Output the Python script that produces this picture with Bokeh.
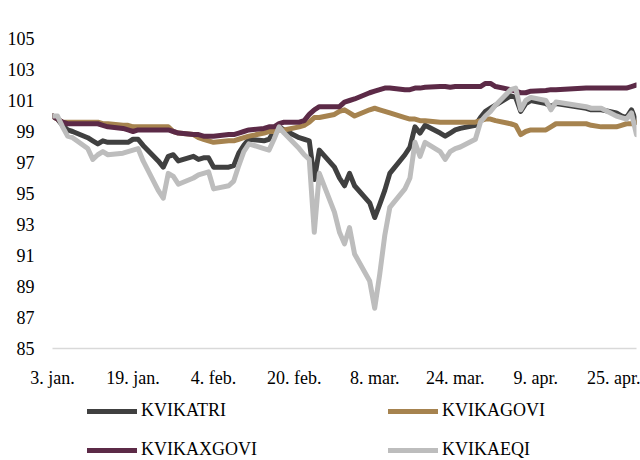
import pandas as pd
from bokeh.plotting import figure
from bokeh.layouts import column
from bokeh.models import Range1d, FixedTicker, Legend, LegendItem
from bokeh.embed import file_html
from bokeh.resources import INLINE

dates = [
    "2022-01-03", "2022-01-04", "2022-01-05", "2022-01-06", "2022-01-07",
    "2022-01-10", "2022-01-11", "2022-01-12", "2022-01-13", "2022-01-14",
    "2022-01-17", "2022-01-18", "2022-01-19", "2022-01-20", "2022-01-21",
    "2022-01-24", "2022-01-25", "2022-01-26", "2022-01-27", "2022-01-28",
    "2022-01-31",
    "2022-02-01", "2022-02-02", "2022-02-03", "2022-02-04",
    "2022-02-07", "2022-02-08", "2022-02-09", "2022-02-10", "2022-02-11",
    "2022-02-14", "2022-02-15", "2022-02-16", "2022-02-17", "2022-02-18",
    "2022-02-21", "2022-02-22", "2022-02-23", "2022-02-24", "2022-02-25",
    "2022-02-28",
    "2022-03-01", "2022-03-02", "2022-03-03", "2022-03-04",
    "2022-03-07", "2022-03-08", "2022-03-09", "2022-03-10", "2022-03-11",
    "2022-03-14", "2022-03-15", "2022-03-16", "2022-03-17", "2022-03-18",
    "2022-03-21", "2022-03-22", "2022-03-23", "2022-03-24", "2022-03-25",
    "2022-03-28", "2022-03-29", "2022-03-30", "2022-03-31",
    "2022-04-01",
    "2022-04-04", "2022-04-05", "2022-04-06", "2022-04-07", "2022-04-08",
    "2022-04-11", "2022-04-12", "2022-04-13",
    "2022-04-19", "2022-04-20", "2022-04-22",
    "2022-04-25", "2022-04-26", "2022-04-27", "2022-04-28", "2022-04-29",
]

kvikatri = [
    100.0, 99.8, 99.4, 99.1, 99.0, 98.6, 98.4, 98.2, 98.4, 98.3,
    98.3, 98.3, 98.5, 98.5, 98.1, 97.1, 96.7, 97.4, 97.5, 97.1, 97.4,
    97.2, 97.3, 97.3, 96.7, 96.7, 96.8, 97.6, 98.1, 98.5,
    98.4, 98.5, 99.0, 99.3, 99.1, 98.6, 98.5, 98.4, 95.9, 97.8, 96.7,
    96.0, 95.5, 96.3, 95.5, 94.4, 93.45, 94.3, 95.2, 96.3,
    97.5, 98.0, 99.3, 98.9, 99.4, 98.9, 98.7, 98.9, 99.1, 99.2,
    99.4, 99.9, 100.3, 100.5,
    100.7, 101.3, 101.2, 100.3, 100.8, 101.0, 100.8, 100.6, 100.8,
    100.5, 100.4, 100.4, 100.2, 100.0, 99.9, 100.4, 99.6,
]

kvikagovi = [
    100.0, 99.8, 99.6, 99.6, 99.6, 99.6, 99.6, 99.6, 99.5, 99.5,
    99.4, 99.4, 99.3, 99.3, 99.3, 99.3, 99.3, 99.3, 99.0, 98.9, 98.8,
    98.6, 98.5, 98.4, 98.3, 98.4, 98.4, 98.5, 98.6, 98.7,
    98.9, 99.0, 99.0, 99.1, 99.1, 99.3, 99.4, 99.6, 99.9, 99.9, 100.1,
    100.3, 100.4, 100.2, 100.0, 100.4, 100.5, 100.4, 100.3, 100.2,
    99.9, 99.8, 99.8, 99.7, 99.7, 99.6, 99.6, 99.6, 99.6, 99.6,
    99.6, 99.7, 99.8, 99.8,
    99.7, 99.5, 99.4, 98.8, 99.0, 99.1, 99.1, 99.3, 99.5,
    99.5, 99.4, 99.3, 99.3, 99.4, 99.5, 99.5, 99.6,
]

kvikaxgovi = [
    100.0, 99.8, 99.6, 99.5, 99.5, 99.5, 99.5, 99.5, 99.4, 99.3,
    99.2, 99.1, 99.0, 99.1, 99.1, 99.1, 99.1, 99.1, 99.0, 98.9, 98.8,
    98.8, 98.7, 98.7, 98.7, 98.8, 98.8, 98.9, 99.0, 99.1,
    99.2, 99.3, 99.3, 99.5, 99.6, 99.6, 99.7, 100.1, 100.4, 100.6, 100.6,
    100.6, 100.9, 101.0, 101.1, 101.5, 101.6, 101.7, 101.8, 101.8,
    101.7, 101.7, 101.8, 101.8, 101.85, 101.9, 101.9, 101.85, 101.9, 101.9,
    101.9, 101.9, 102.1, 102.1,
    101.9, 101.7, 101.6, 101.5, 101.5, 101.6, 101.65, 101.7, 101.7,
    101.8, 101.8, 101.8, 101.8, 101.8, 101.8, 101.9, 102.0,
]

kvikaeqi = [
    100.0, 100.0, 99.3, 98.7, 98.6, 97.9, 97.2, 97.5, 97.7, 97.5,
    97.6, 97.7, 97.8, 97.9, 97.1, 95.2, 94.7, 96.3, 96.1, 95.6, 96.0,
    96.2, 96.3, 96.4, 95.3, 95.5, 95.8, 96.8, 97.7, 98.2,
    97.9, 97.8, 98.5, 99.3, 98.9, 97.9, 97.5, 97.2, 92.5, 96.3, 93.8,
    92.5, 91.75, 92.8, 91.1, 89.35, 87.6, 89.8, 92.3, 94.1,
    95.3, 96.0, 98.3, 97.4, 98.3, 97.7, 97.2, 97.7, 97.9, 98.0,
    98.5, 99.6, 100.0, 100.3,
    100.7, 101.7, 101.8, 100.4, 101.0, 101.2, 101.0, 100.4, 100.9,
    100.6, 100.5, 100.5, 100.0, 99.9, 99.8, 100.2, 98.8,
]

tick_dates = ["2022-01-03", "2022-01-19", "2022-02-04", "2022-02-20",
              "2022-03-08", "2022-03-24", "2022-04-09", "2022-04-25"]
tick_labels = ["3. jan.", "19. jan.", "4. feb.", "20. feb.",
               "8. mar.", "24. mar.", "9. apr.", "25. apr."]
y_ticks = [85, 87, 89, 91, 93, 95, 97, 99, 101, 103, 105]

series_names = ["KVIKATRI", "KVIKAGOVI", "KVIKAXGOVI", "KVIKAEQI"]
series_colors = ["#404040", "#A6834F", "#5C2A47", "#BDBDBD"]
series_values = [kvikatri, kvikagovi, kvikaxgovi, kvikaeqi]

FONT = "Liberation Serif"
LW = 5

x = pd.to_datetime(dates)

p = figure(width=640, height=390, x_axis_type="datetime",
           output_backend="svg", toolbar_location=None,
           x_range=Range1d(x[0], x[-1]), y_range=Range1d(85, 105),
           min_border_left=52, min_border_right=4, min_border_top=38,
           min_border_bottom=36)
p.outline_line_color = None
p.background_fill_color = "white"
p.xgrid.visible = False
p.ygrid.visible = False

for vals, col in zip(series_values, series_colors):
    p.line(x, vals, line_color=col, line_width=LW,
           line_join="round", line_cap="round")

tick_ms = [float(pd.Timestamp(d).value // 10**6) for d in tick_dates]
xa = p.xaxis[0]
xa.ticker = FixedTicker(ticks=tick_ms)
xa.major_label_overrides = {t: lab for t, lab in zip(tick_ms, tick_labels)}
xa.axis_line_color = "#D9D9D9"
xa.axis_line_width = 1.5
xa.major_tick_line_color = None
xa.minor_tick_line_color = None
xa.major_tick_out = 0
xa.major_tick_in = 0
xa.major_label_standoff = 19
xa.major_label_text_font = FONT
xa.major_label_text_font_size = "18px"
xa.major_label_text_color = "black"

ya = p.yaxis[0]
ya.ticker = FixedTicker(ticks=y_ticks)
ya.axis_line_color = None
ya.major_tick_line_color = None
ya.minor_tick_line_color = None
ya.major_tick_out = 0
ya.major_tick_in = 0
ya.major_label_standoff = 18
ya.major_label_text_font = FONT
ya.major_label_text_font_size = "18px"
ya.major_label_text_color = "black"

# Legend strip below the chart (its lines use the same series, kept outside the view)
pl = figure(width=640, height=70, output_backend="svg", toolbar_location=None,
            x_range=Range1d(0, 1), y_range=Range1d(0, 1),
            min_border_left=0, min_border_right=0, min_border_top=0,
            min_border_bottom=0)
pl.axis.visible = False
pl.xgrid.visible = False
pl.ygrid.visible = False
pl.outline_line_color = None

leg_renderers = [pl.line(x, vals, line_color=col, line_width=LW, line_cap="round")
                 for vals, col in zip(series_values, series_colors)]


def make_legend(idx, loc):
    return Legend(items=[LegendItem(label=series_names[i], renderers=[leg_renderers[i]]) for i in idx],
                  location=loc, orientation="vertical",
                  glyph_width=50, glyph_height=18, label_height=18,
                  label_standoff=4, spacing=18, padding=0, margin=0,
                  background_fill_alpha=0, border_line_alpha=0,
                  label_text_font=FONT, label_text_font_size="18px",
                  label_text_color="black")


pl.add_layout(make_legend([0, 2], (35, 0)))
pl.add_layout(make_legend([1, 3], (336, 0)))

layout = column(p, pl, spacing=0)
open("out.html", "w").write(file_html(layout, INLINE))
